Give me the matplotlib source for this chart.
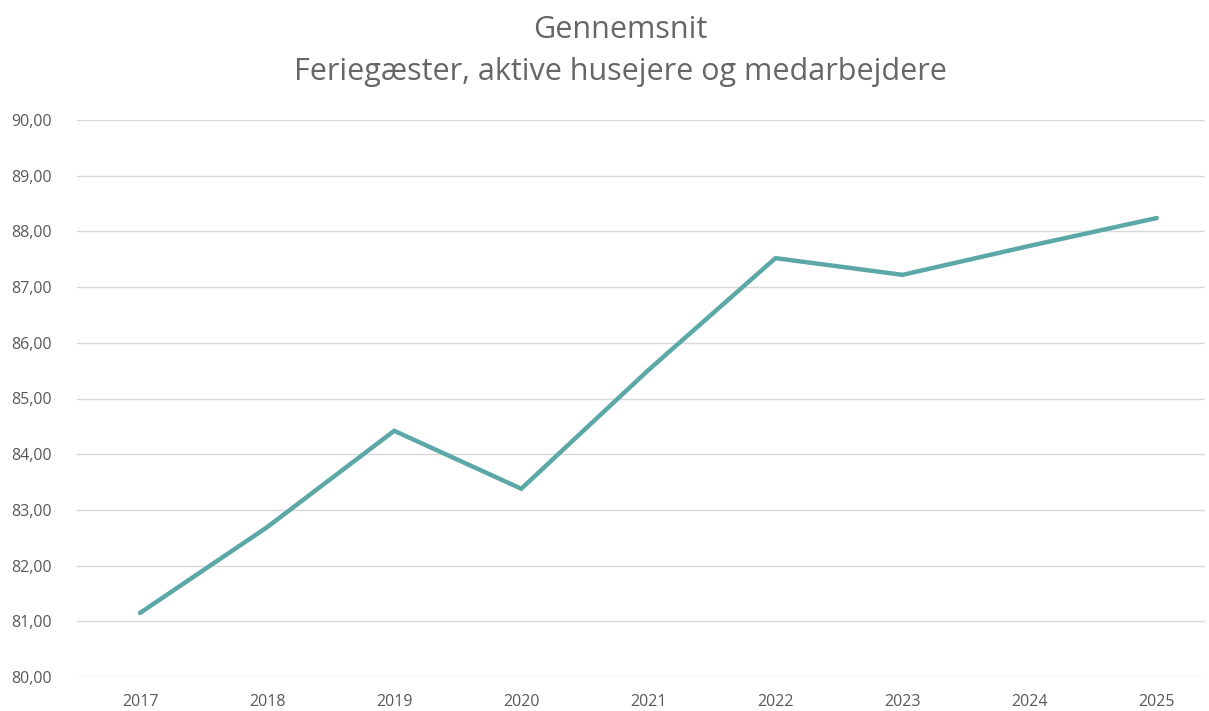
import matplotlib.pyplot as plt
from matplotlib.ticker import FuncFormatter

years = ['2017', '2018', '2019', '2020', '2021', '2022', '2023', '2024', '2025']
values = [81.15, 82.69, 84.42, 83.38, 85.51, 87.52, 87.22, 87.74, 88.24]
y_ticks = [80, 81, 82, 83, 84, 85, 86, 87, 88, 89, 90]

fig = plt.figure(figsize=(12.09, 7.11), dpi=100)
ax = fig.add_axes([77 / 1209, 1 - 677 / 711, 1128 / 1209, 557 / 711])

x = list(range(len(years)))
ax.plot(x, values, color='#5BA8A6', linewidth=3.2, solid_capstyle='round', solid_joinstyle='miter', zorder=3)

ax.set_ylim(80, 90)
ax.set_xlim(-0.496, 8.38)
ax.set_yticks(y_ticks)
ax.yaxis.set_major_formatter(FuncFormatter(lambda v, p: f"{v:.2f}".replace('.', ',')))
ax.set_xticks(x)
ax.set_xticklabels(years)

ax.grid(axis='y', color='#D9D9D9', linewidth=1)
ax.set_axisbelow(True)
for s in ax.spines.values():
    s.set_visible(False)
ax.tick_params(axis='both', length=0, labelsize=11.5, colors='#595959')
ax.tick_params(axis='y', pad=18)
ax.tick_params(axis='x', pad=12)
for lab in ax.get_xticklabels() + ax.get_yticklabels():
    lab.set_family('Open Sans')

fig.text(620 / 1209, 1 - 30 / 711, 'Gennemsnit', ha='center', va='center',
         fontsize=22, color='#666666', family='Open Sans')
fig.text(620 / 1209, 1 - 72 / 711, 'Feriegæster, aktive husejere og medarbejdere', ha='center', va='center',
         fontsize=22, color='#666666', family='Open Sans')

fig.savefig('out.png', dpi=100)
